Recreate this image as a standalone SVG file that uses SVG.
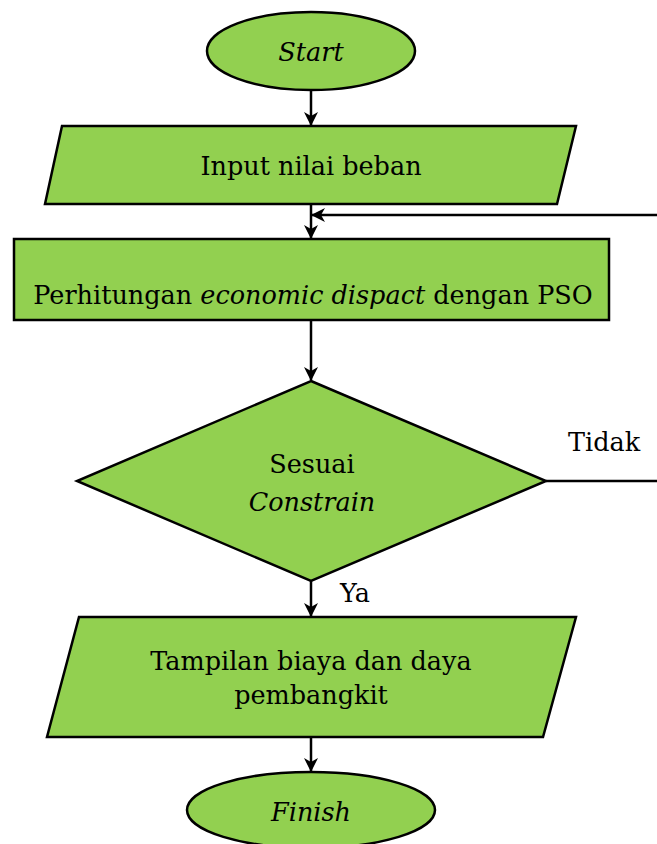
<svg xmlns="http://www.w3.org/2000/svg" width="657" height="844" viewBox="0 0 657 844">
<style>
.n{fill:#92D050;stroke:#000;stroke-width:2.5}
.c{fill:none;stroke:#000;stroke-width:2.5}
.t{font-family:'DejaVu Serif','Liberation Serif',serif;font-size:25.5px;fill:#000}
.m{text-anchor:middle}
.i{font-style:italic}
</style>
<defs>
<marker id="a" viewBox="0 0 14 14" refX="13" refY="7" markerWidth="14" markerHeight="14" markerUnits="userSpaceOnUse" orient="auto">
<path d="M0,0 L14,7 L0,14 L4,7 z" fill="#000"/>
</marker>
</defs>
<rect width="657" height="844" fill="#fff"/>
<g id="connectors">
<path class="c" d="M311,90 V125" marker-end="url(#a)"/>
<path class="c" d="M311,204 V238" marker-end="url(#a)"/>
<path class="c" d="M657,215 H312" marker-end="url(#a)"/>
<path class="c" d="M311,320 V380" marker-end="url(#a)"/>
<path class="c" d="M546,481 H657"/>
<path class="c" d="M311,581 V616" marker-end="url(#a)"/>
<path class="c" d="M311,737 V771" marker-end="url(#a)"/>
</g>
<g class="t">
<g id="start">
<ellipse class="n" cx="311" cy="51" rx="104" ry="39"/>
<text class="m i" x="311" y="61">Start</text>
</g>
<g id="input">
<polygon class="n" points="62,126 576,126 557,204 45,204"/>
<text class="m" x="311" y="175">Input nilai beban</text>
</g>
<g id="proses">
<rect class="n" x="14" y="239" width="595" height="81"/>
<text class="m" x="313" y="304">Perhitungan <tspan class="i">economic dispact</tspan> dengan PSO</text>
</g>
<g id="keputusan">
<polygon class="n" points="311,381 546,481 311,581 77,481"/>
<text class="m" x="312" y="473">Sesuai</text>
<text class="m i" x="312" y="511">Constrain</text>
</g>
<g id="labels">
<text x="568" y="451">Tidak</text>
<text x="340" y="602">Ya</text>
</g>
<g id="output">
<polygon class="n" points="79,617 576,617 543,737 47,737"/>
<text class="m" x="311" y="670">Tampilan biaya dan daya</text>
<text class="m" x="311" y="704">pembangkit</text>
</g>
<g id="finish">
<ellipse class="n" cx="311" cy="810" rx="124" ry="38"/>
<text class="m i" x="311" y="821">Finish</text>
</g>
</g>
</svg>
